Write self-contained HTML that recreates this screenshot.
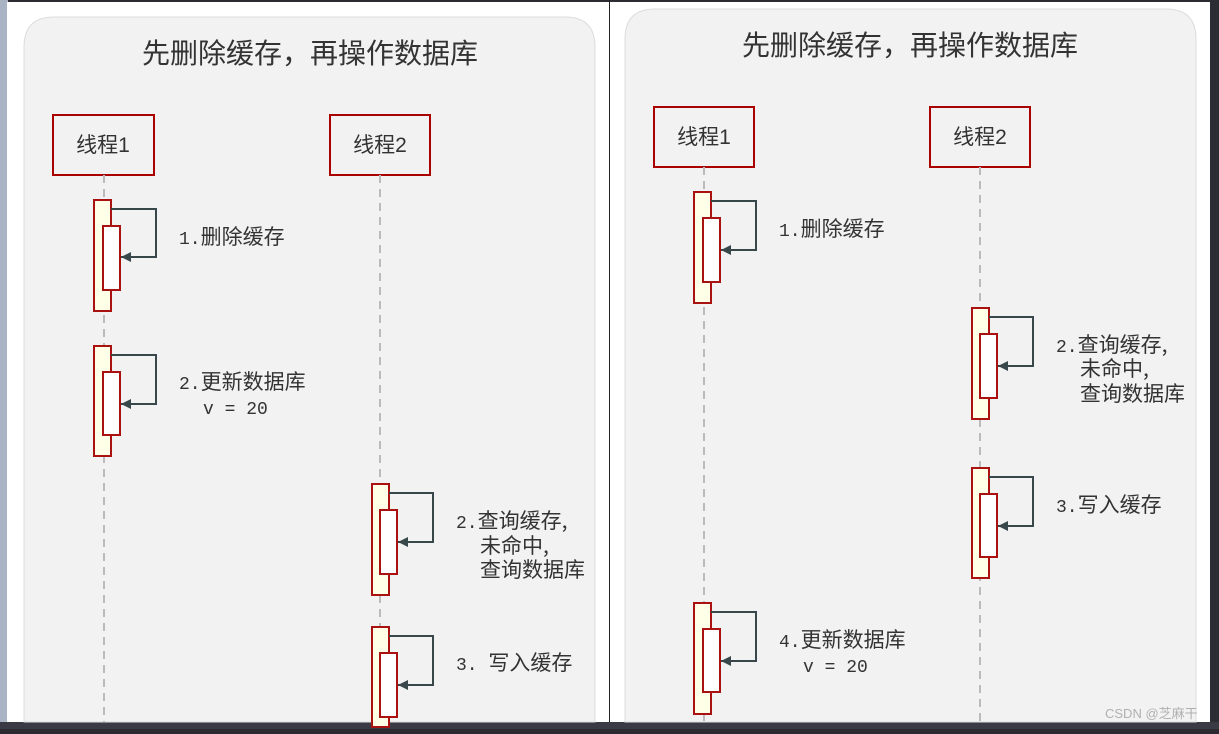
<!DOCTYPE html>
<html><head><meta charset="utf-8"><style>
html,body{margin:0;padding:0;}
body{width:1219px;height:729px;overflow:hidden;background:#2a2a30;}
svg text{font-family:"Liberation Mono","Noto Sans CJK SC",monospace;fill:#333;}
.t{font-family:"Liberation Sans","Noto Sans CJK SC",sans-serif;}
.c{font-family:"Noto Sans CJK SC",sans-serif;font-size:21px;}
</style></head><body>
<svg width="1219" height="729" viewBox="0 0 1219 729" xmlns="http://www.w3.org/2000/svg">
<defs>
<marker id="a" markerWidth="12" markerHeight="12" refX="10" refY="5" orient="auto" markerUnits="userSpaceOnUse">
<path d="M0,0 L10,5 L0,10 Z" fill="#37474a"/></marker>
</defs>
<rect x="0" y="0" width="1219" height="729" fill="#2c2c34"/>
<rect x="0" y="0" width="8" height="729" fill="#a8b4c4"/>
<rect x="0" y="722" width="1219" height="7" fill="#3a3a44"/>
<rect x="7" y="2" width="602" height="720" fill="#ffffff"/>
<path d="M24,722 V47 Q24,17 54,17 H565 Q595,17 595,47 V722 Z" fill="#f2f2f2" stroke="#dcdcdc"/>
<rect x="609" y="0" width="1" height="722" fill="#222"/>
<rect x="610" y="2" width="600" height="720" fill="#ffffff"/>
<path d="M625,722 V39 Q625,9 655,9 H1166 Q1196,9 1196,39 V722 Z" fill="#f2f2f2" stroke="#dcdcdc"/>

<text class="t" x="310" y="63" font-size="28" text-anchor="middle">先删除缓存，再操作数据库</text>
<rect x="53" y="115" width="101" height="60" fill="#f2f2f2" stroke="#aa0000" stroke-width="2"/>
<text class="t" x="103" y="152" font-size="21" text-anchor="middle">线程1</text>
<rect x="330" y="115" width="100" height="60" fill="#f2f2f2" stroke="#aa0000" stroke-width="2"/>
<text class="t" x="380" y="152" font-size="21" text-anchor="middle">线程2</text>
<line x1="104" y1="175" x2="104" y2="722" stroke="#bbb" stroke-width="2" stroke-dasharray="8,6"/>
<line x1="380" y1="175" x2="380" y2="722" stroke="#bbb" stroke-width="2" stroke-dasharray="8,6"/>

<g stroke="#aa1111" stroke-width="2">
<rect x="94" y="200" width="17" height="111" fill="#fffee6"/>
<rect x="103" y="226" width="17" height="64" fill="#fff"/>
<rect x="94" y="346" width="17" height="110" fill="#fffee6"/>
<rect x="103" y="372" width="17" height="63" fill="#fff"/>
<rect x="372" y="484" width="17" height="111" fill="#fffee6"/>
<rect x="380" y="510" width="17" height="64" fill="#fff"/>
<rect x="372" y="627" width="17" height="100" fill="#fffee6"/>
<rect x="380" y="653" width="17" height="64" fill="#fff"/>
</g>
<g fill="none" stroke="#37474a" stroke-width="2" marker-end="url(#a)">
<path d="M111,209 H156 V257 H121"/>
<path d="M111,355 H156 V404 H121"/>
<path d="M389,493 H433 V542 H398"/>
<path d="M389,636 H433 V685 H398"/>
</g>
<g font-size="18">
<text x="179" y="244">1.<tspan class="c">删除缓存</tspan></text>
<text x="179" y="389">2.<tspan class="c">更新数据库</tspan></text>
<text x="203" y="414">v = 20</text>
<text x="456" y="528">2.<tspan class="c">查询缓存,</tspan></text>
<text x="480" y="553" class="c">未命中,</text>
<text x="480" y="577" class="c">查询数据库</text>
<text x="456" y="670">3. <tspan class="c">写入缓存</tspan></text>
</g>

<text class="t" x="910" y="55" font-size="28" text-anchor="middle">先删除缓存，再操作数据库</text>
<rect x="654" y="107" width="100" height="60" fill="#f2f2f2" stroke="#aa0000" stroke-width="2"/>
<text class="t" x="704" y="144" font-size="21" text-anchor="middle">线程1</text>
<rect x="930" y="107" width="100" height="60" fill="#f2f2f2" stroke="#aa0000" stroke-width="2"/>
<text class="t" x="980" y="144" font-size="21" text-anchor="middle">线程2</text>
<line x1="704" y1="167" x2="704" y2="722" stroke="#bbb" stroke-width="2" stroke-dasharray="8,6"/>
<line x1="980" y1="167" x2="980" y2="722" stroke="#bbb" stroke-width="2" stroke-dasharray="8,6"/>
<g stroke="#aa1111" stroke-width="2">
<rect x="694" y="192" width="17" height="111" fill="#fffee6"/>
<rect x="703" y="218" width="17" height="64" fill="#fff"/>
<rect x="972" y="308" width="17" height="111" fill="#fffee6"/>
<rect x="980" y="334" width="17" height="64" fill="#fff"/>
<rect x="972" y="468" width="17" height="110" fill="#fffee6"/>
<rect x="980" y="494" width="17" height="63" fill="#fff"/>
<rect x="694" y="603" width="17" height="111" fill="#fffee6"/>
<rect x="703" y="629" width="17" height="63" fill="#fff"/>
</g>
<g fill="none" stroke="#37474a" stroke-width="2" marker-end="url(#a)">
<path d="M711,201 H756 V250 H721"/>
<path d="M989,317 H1033 V366 H998"/>
<path d="M989,477 H1033 V526 H998"/>
<path d="M711,612 H756 V661 H721"/>
</g>
<g font-size="18">
<text x="779" y="236">1.<tspan class="c">删除缓存</tspan></text>
<text x="1056" y="352">2.<tspan class="c">查询缓存,</tspan></text>
<text x="1080" y="376" class="c">未命中,</text>
<text x="1080" y="401" class="c">查询数据库</text>
<text x="1056" y="512">3.<tspan class="c">写入缓存</tspan></text>
<text x="779" y="647">4.<tspan class="c">更新数据库</tspan></text>
<text x="803" y="672">v = 20</text>
</g>
<text class="t" x="1105" y="718" font-size="13" style="fill:#b0b0b0">CSDN @芝麻干</text>
</svg>
</body></html>
